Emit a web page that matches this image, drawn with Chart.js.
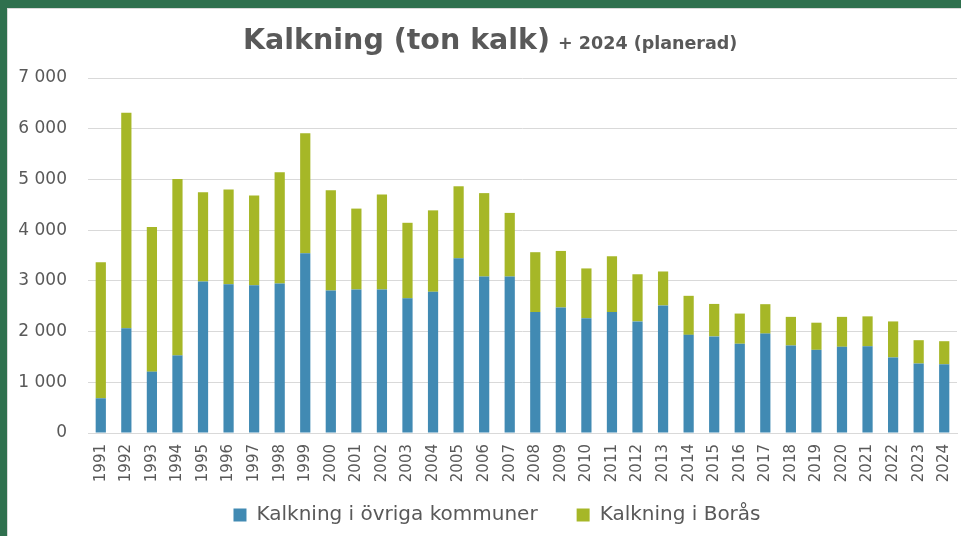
<!DOCTYPE html>
<html>
<head>
<meta charset="utf-8">
<script src="https://cdn.jsdelivr.net/npm/chart.js@4.4.1/dist/chart.umd.min.js"></script>
<style>
  html, body { margin: 0; padding: 0; }
  body { width: 961px; height: 536px; background: #2f704e; position: relative; overflow: hidden; }
  #panel {
    position: absolute; left: 7px; top: 8px; width: 960px; height: 540px;
    background: #fff; border-top: 1px solid #d9d9d9; border-left: 1px solid #d9d9d9;
  }
  #chartWrap { position: absolute; left: 0; top: 0; width: 961px; height: 536px; }
  #title {
    position: absolute; left: 243px; top: 23px;
    display: flex; align-items: baseline; white-space: nowrap;
    font-family: "DejaVu Sans", sans-serif; font-weight: bold; color: #595959;
  }
  #title .main { font-size: 28.5px; }
  #title .sub { font-size: 17.5px; margin-left: 8px; }
</style>
</head>
<body>
<div id="panel"></div>
<div id="chartWrap"><canvas id="kalkChart" width="961" height="536"></canvas></div>
<div id="title"><span class="main">Kalkning (ton kalk)</span><span class="sub">+ 2024 (planerad)</span></div>

<script>
// Years on the x axis
const years = [
  "1991", "1992", "1993", "1994", "1995", "1996", "1997", "1998", "1999", "2000",
  "2001", "2002", "2003", "2004", "2005", "2006", "2007", "2008", "2009", "2010",
  "2011", "2012", "2013", "2014", "2015", "2016", "2017", "2018", "2019", "2020",
  "2021", "2022", "2023", "2024",
];

// ton kalk
const ovrigaKommuner = [
  685, 2065, 1210, 1530, 2985, 2935, 2915, 2950, 3545, 2810,
  2830, 2830, 2655, 2785, 3445, 3085, 3085, 2385, 2475, 2265,
  2385, 2200, 2515, 1935, 1905, 1760, 1960, 1725, 1640, 1700,
  1710, 1490, 1370, 1355,
];
const boras = [
  2680, 4250, 2850, 3480, 1760, 1865, 1770, 2190, 2365, 1975,
  1595, 1875, 1490, 1605, 1420, 1645, 1255, 1180, 1115, 980,
  1100, 930, 670, 770, 640, 595, 580, 565, 535, 590,
  590, 710, 460, 455,
];

const yTicks = [0, 1000, 2000, 3000, 4000, 5000, 6000, 7000];

const textGray = "#595959";
const gridGray = "#d9d9d9";

function formatThousands(v) {
  return String(v).replace(/\B(?=(\d{3})+(?!\d))/g, " ");
}

// Chart.js clips tick labels to the axis box; the boxes are squeezed here
// to get the original spacing, so widen the clip area after layout.
const unclipLabels = {
  id: "unclipLabels",
  afterLayout(chart) {
    chart.scales.y.left = 0;
    chart.scales.x.bottom = chart.height;
  },
};

new Chart(document.getElementById("kalkChart"), {
  type: "bar",
  data: {
    labels: years,
    datasets: [
      {
        label: "Kalkning i övriga kommuner",
        data: ovrigaKommuner,
        backgroundColor: "#418ab3",
        borderWidth: 0,
      },
      {
        label: "Kalkning i Borås",
        data: boras,
        backgroundColor: "#a6b727",
        borderWidth: 0,
      },
    ],
  },
  plugins: [unclipLabels],
  options: {
    responsive: false,
    animation: false,
    categoryPercentage: 1,
    barPercentage: 0.4,
    // left padding also shifts the centred legend a bit to the right, like the original
    layout: { padding: { left: 37, right: 4, top: 78, bottom: 1 } },
    plugins: {
      title: { display: false },
      tooltip: { enabled: false },
      legend: {
        position: "bottom",
        labels: {
          boxWidth: 13,
          boxHeight: 13,
          padding: 39,
          color: textGray,
          font: { family: "DejaVu Sans", size: 20 },
        },
      },
    },
    scales: {
      x: {
        stacked: true,
        grid: { display: false, drawTicks: false },
        border: { color: gridGray, width: 1 },
        ticks: {
          color: textGray,
          font: { family: "DejaVu Sans", size: 15 },
          minRotation: 90,
          maxRotation: 90,
          autoSkip: false,
          padding: 11,
        },
        afterFit: (s) => {
          s.height = 33;
          s.paddingLeft = 0;
          s.paddingRight = 0;
        },
      },
      y: {
        stacked: true,
        min: 0,
        max: 7000,
        afterBuildTicks: (s) => { s.ticks = yTicks.map((v) => ({ value: v })); },
        grid: { color: gridGray, lineWidth: 1, drawTicks: false },
        border: { display: false },
        ticks: {
          color: textGray,
          font: { family: "DejaVu Sans", size: 17 },
          padding: 21,
          callback: (v) => formatThousands(v),
        },
        afterFit: (s) => { s.width = 51; },
      },
    },
  },
});
</script>
</body>
</html>
